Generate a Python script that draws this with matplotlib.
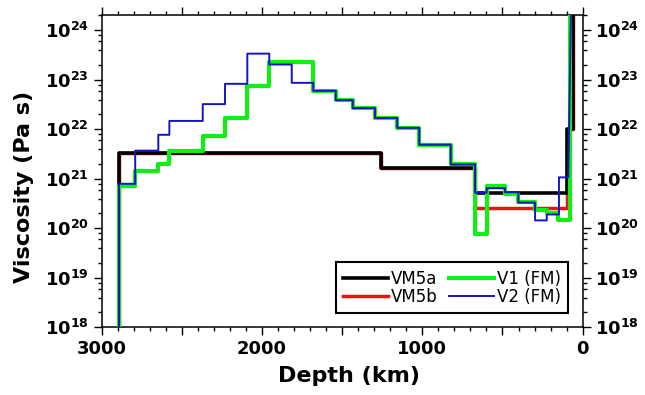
import matplotlib
matplotlib.use("Agg")
import matplotlib.pyplot as plt
import numpy as np
from matplotlib.ticker import MultipleLocator, FixedLocator, FuncFormatter, NullFormatter

# depth of layer boundaries (km) and viscosity (Pa s) per layer, surface -> CMB
cmb_depth = 2891
floor_visc = 1e15          # below plot, used for the drop at the CMB
lith_visc = 1e30           # effectively elastic lithosphere

vm5a_edges = [0, 60, 100, 670, 1260, 2891]
vm5a_visc = [lith_visc, 1.0e22, 5.2e20, 1.66e21, 3.3e21]

vm5b_edges = [0, 60, 100, 670, 1260, 2891]
vm5b_visc = [lith_visc, 1.0e22, 2.6e20, 1.66e21, 3.3e21]

v1_edges = [0, 80, 152, 224, 297, 401, 484, 599, 671, 823, 1019, 1156, 1295,
            1434, 1540, 1680, 1954, 2091, 2230, 2369, 2577, 2646, 2790, 2891]
v1_log_visc = [30, 20.17, 20.30, 20.38, 20.53, 20.70, 20.86, 19.89, 21.29, 21.69,
               22.03, 22.23, 22.43, 22.59, 22.78, 23.37, 22.88, 22.23, 21.87,
               21.57, 21.30, 21.15, 20.86]

v2_top_depth = [70]
v2_top_log_visc = [25]
v2_edges = [90, 148, 224, 297, 401, 484, 599, 671, 823, 1019, 1156, 1295, 1434,
            1540, 1680, 1814, 1954, 2091, 2230, 2369, 2577, 2646, 2790, 2891]
v2_log_visc = [21.03, 20.28, 20.16, 20.52, 20.73, 20.81, 20.72, 21.29, 21.69,
               22.03, 22.23, 22.43, 22.59, 22.78, 22.94, 23.31, 23.53, 22.92,
               22.51, 22.17, 21.89, 21.57, 20.90]

y_decades = [18, 19, 20, 21, 22, 23, 24]


def step_profile(edges, visc):
    """Turn layer edges + values into a stepped polyline ending with the CMB drop."""
    x = np.repeat(np.asarray(edges, float), 2)[1:-1]
    y = np.repeat(np.asarray(visc, float), 2)
    x = np.append(x, cmb_depth)
    y = np.append(y, floor_visc)
    return x, y


plt.rcParams["font.family"] = "DejaVu Sans"
plt.rcParams["font.weight"] = "bold"
plt.rcParams["axes.labelweight"] = "bold"
plt.rcParams["mathtext.fontset"] = "dejavusans"

fig = plt.figure(figsize=(6.45, 3.95), dpi=100)
ax = fig.add_axes([0.1574, 0.1714, 0.746, 0.7894])

x, y = step_profile(vm5b_edges, vm5b_visc)
l_b, = ax.plot(x, y, color="#ee1111", lw=2.5, label="VM5b", zorder=2)
x, y = step_profile(vm5a_edges, vm5a_visc)
l_a, = ax.plot(x, y, color="black", lw=2.6, label="VM5a", zorder=3)
x, y = step_profile(v1_edges, np.power(10.0, v1_log_visc))
l_1, = ax.plot(x, y, color="#11ee11", lw=3.0, label="V1 (FM)", zorder=4)
x, y = step_profile(v2_edges, np.power(10.0, v2_log_visc))
x = np.concatenate([v2_top_depth, x])
y = np.concatenate([np.power(10.0, v2_top_log_visc), y])
l_2, = ax.plot(x, y, color="#1515c0", lw=1.4, label="V2 (FM)", zorder=5)

ax.set_yscale("log")
ax.set_xlim(3000, 0)
ax.set_ylim(1e18, 2e24)

ax.xaxis.set_major_locator(MultipleLocator(500))
ax.xaxis.set_minor_locator(MultipleLocator(100))
ax.xaxis.set_major_formatter(FuncFormatter(lambda v, p: f"{int(round(v))}" if round(v) % 1000 == 0 else ""))

major_y = [10.0 ** d for d in y_decades]
minor_y = [m * 10.0 ** d for d in y_decades[:-1] for m in (2, 4, 6, 8)] + [2 * 10.0 ** y_decades[-1]]
ax.yaxis.set_major_locator(FixedLocator(major_y))
ax.yaxis.set_minor_locator(FixedLocator(minor_y))
ax.yaxis.set_minor_formatter(NullFormatter())
ax.yaxis.set_major_formatter(FuncFormatter(lambda v, p: r"$\mathbf{10^{%d}}$" % int(round(np.log10(v)))))

ax.tick_params(which="both", direction="out", top=True, right=True, labelright=True,
               labeltop=False, width=1.0, labelsize=13)
ax.tick_params(which="major", length=6, pad=3)
ax.tick_params(which="minor", length=3)
for s in ax.spines.values():
    s.set_linewidth(1.1)

ax.set_xlabel("Depth (km)", fontsize=16, fontweight="bold")
ax.xaxis.set_label_coords(0.514, -0.125)
ax.set_ylabel("Viscosity (Pa s)", fontsize=16, fontweight="bold")
ax.yaxis.set_label_coords(-0.141, 0.45)

leg = ax.legend(handles=[l_a, l_b, l_1, l_2], loc="lower right", bbox_to_anchor=(0.970, 0.045),
                borderaxespad=0, ncol=2, prop={"size": 12, "weight": "normal"},
                fancybox=False, edgecolor="black", framealpha=1, handlelength=2.7,
                handletextpad=0.15, columnspacing=0.7, labelspacing=0.0, borderpad=0.45)
leg.get_frame().set_linewidth(1.5)

plt.savefig("out.png", dpi=100)
plt.close()
